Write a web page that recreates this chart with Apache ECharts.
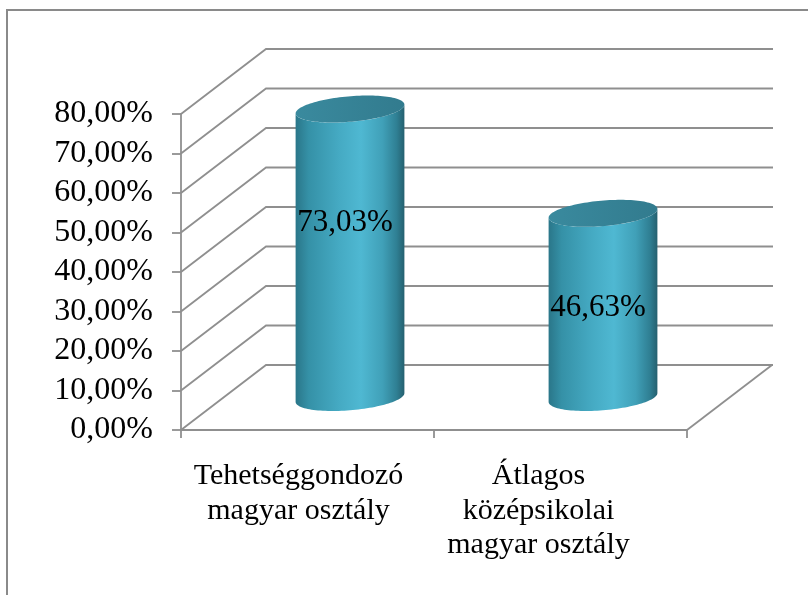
<!DOCTYPE html>
<html>
<head>
<meta charset="utf-8">
<title>Magyar osztályok</title>
<script src="https://cdn.jsdelivr.net/npm/echarts@6/dist/echarts.min.js"></script>
<style>
  html, body { margin: 0; padding: 0; background: #fff; }
  #chart { width: 808px; height: 595px; }
</style>
</head>
<body>
<div id="chart"></div>
<script>
// Category names (two-line / three-line axis labels)
const categories = ['Tehetséggondozó\nmagyar osztály', 'Átlagos\nközépsikolai\nmagyar osztály'];
// Share of each group
const shares = [0.7303, 0.4663];
// Value-axis ticks
const yTicks = [0, 0.1, 0.2, 0.3, 0.4, 0.5, 0.6, 0.7, 0.8];

// ---- drawing settings ----
const FONT = "'Times New Roman', 'Liberation Serif', serif";
const GRID_COLOR = '#8f8f8f';
const DEPTH_X = 85;        // front plane -> back wall offset (px)
const DEPTH_Y = -65;
const CYL_WIDTH = 0.43;    // cylinder diameter as share of a category band
const CYL_RY = 13.5;       // vertical half-extent of the cylinder caps
const LABEL_NUDGE = [[-5, -30], [-5, 2]]; // value label offset from body centre

const pct = v => (v * 100).toFixed(2).replace('.', ',') + '%';

const chart = echarts.init(document.getElementById('chart'), null, { renderer: 'canvas' });

// Back wall lines and side-wall diagonals, one per value tick
function renderWalls(params, api) {
  const cs = params.coordSys;
  const v = api.value(1);
  const y = api.coord([0, v])[1];
  const left = cs.x, right = cs.x + cs.width;
  const children = [{
    type: 'polyline',
    shape: { points: [[left, y], [left + DEPTH_X, y + DEPTH_Y], [right + DEPTH_X + 1, y + DEPTH_Y]] },
    style: { stroke: GRID_COLOR, lineWidth: 1.8, fill: null }
  }];
  if (v === 0) {
    children.push({
      type: 'line',
      shape: { x1: right, y1: y, x2: right + DEPTH_X, y2: y + DEPTH_Y },
      style: { stroke: GRID_COLOR, lineWidth: 1.8 }
    });
  }
  return { type: 'group', children };
}

// Cylinder for each category, standing mid-way in depth
function renderCylinder(params, api) {
  const i = api.value(0);
  const v = api.value(1);
  const topFront = api.coord([i, v]);
  const baseFront = api.coord([i, 0]);
  const band = api.size([1, 0])[0];
  const cx = topFront[0] + DEPTH_X / 2;
  const yTop = topFront[1] + DEPTH_Y / 2;
  const yBase = baseFront[1] + DEPTH_Y / 2;
  const W = band * CYL_WIDTH / 2;
  const vy = -CYL_RY;
  const vx = CYL_RY * DEPTH_X / -DEPTH_Y;
  const rx = Math.sqrt(Math.max(W * W - vx * vx, 1));
  const t0 = Math.atan2(vx, rx);
  const pt = (yc, t) => [cx + rx * Math.cos(t) + vx * Math.sin(t), yc + vy * Math.sin(t)];
  const N = 60;
  const frontArc = yc => {
    const pts = [];
    for (let k = 0; k <= N; k++) pts.push(pt(yc, t0 - Math.PI + Math.PI * k / N));
    return pts;
  };
  const fullEllipse = yc => {
    const pts = [];
    for (let k = 0; k < 2 * N; k++) pts.push(pt(yc, Math.PI * k / N));
    return pts;
  };
  const body = frontArc(yBase).concat(frontArc(yTop).reverse());
  const nudge = LABEL_NUDGE[i] || [0, 0];
  return {
    type: 'group',
    children: [
      {
        type: 'polygon',
        shape: { points: body },
        style: {
          fill: {
            type: 'linear', x: 0, y: 0, x2: 1, y2: 0,
            colorStops: [
              { offset: 0, color: '#2a7689' },
              { offset: 0.12, color: '#3591a7' },
              { offset: 0.4, color: '#45aac3' },
              { offset: 0.6, color: '#4fb8d2' },
              { offset: 0.8, color: '#40a0b8' },
              { offset: 0.93, color: '#2f7f93' },
              { offset: 1, color: '#25606f' }
            ]
          }
        }
      },
      {
        type: 'polygon',
        shape: { points: fullEllipse(yTop) },
        style: {
          fill: {
            type: 'linear', x: 0, y: 0, x2: 1, y2: 0,
            colorStops: [
              { offset: 0, color: '#3a8a9e' },
              { offset: 1, color: '#327b8e' }
            ]
          }
        }
      },
      {
        type: 'text',
        x: cx + nudge[0],
        y: (yTop + yBase) / 2 + nudge[1],
        style: {
          text: pct(v),
          fontFamily: FONT,
          fontSize: 31,
          fill: '#000',
          align: 'center',
          verticalAlign: 'middle'
        }
      }
    ]
  };
}

chart.setOption({
  animation: false,
  backgroundColor: '#fff',
  graphic: [{
    type: 'rect',
    shape: { x: 7, y: 10, width: 840, height: 640 },
    style: { fill: null, stroke: '#8a8a8a', lineWidth: 2 },
    silent: true
  }],
  grid: { left: 181, right: 121, top: 114, bottom: 165 },
  xAxis: {
    type: 'category',
    data: categories,
    axisLine: { lineStyle: { color: GRID_COLOR, width: 1.8 } },
    axisTick: { show: true, length: 8, lineStyle: { color: GRID_COLOR, width: 1.8 } },
    axisLabel: {
      margin: 29,
      formatter: (val, idx) => val.split('\n').map(s => '{c' + idx + '|' + s + '}').join('\n'),
      rich: {
        c0: { fontFamily: FONT, fontSize: 30, lineHeight: 34.5, color: '#000', padding: [0, 18, 0, 0] },
        c1: { fontFamily: FONT, fontSize: 30, lineHeight: 34.5, color: '#000', padding: [0, 44, 0, 0] }
      }
    },
    splitLine: { show: false }
  },
  yAxis: {
    type: 'value',
    min: 0,
    max: 0.8,
    interval: 0.1,
    axisLine: { show: true, lineStyle: { color: GRID_COLOR, width: 1.8 } },
    axisTick: { show: true, length: 9, lineStyle: { color: GRID_COLOR, width: 1.8 } },
    axisLabel: {
      margin: 28,
      fontFamily: FONT,
      fontSize: 32,
      color: '#000',
      formatter: pct
    },
    splitLine: { show: false }
  },
  series: [
    {
      type: 'custom',
      z: 1,
      renderItem: renderWalls,
      data: yTicks.map(v => [0, v]),
      silent: true
    },
    {
      type: 'custom',
      z: 3,
      renderItem: renderCylinder,
      data: shares.map((v, i) => [i, v]),
      silent: true
    }
  ]
});
</script>
</body>
</html>
